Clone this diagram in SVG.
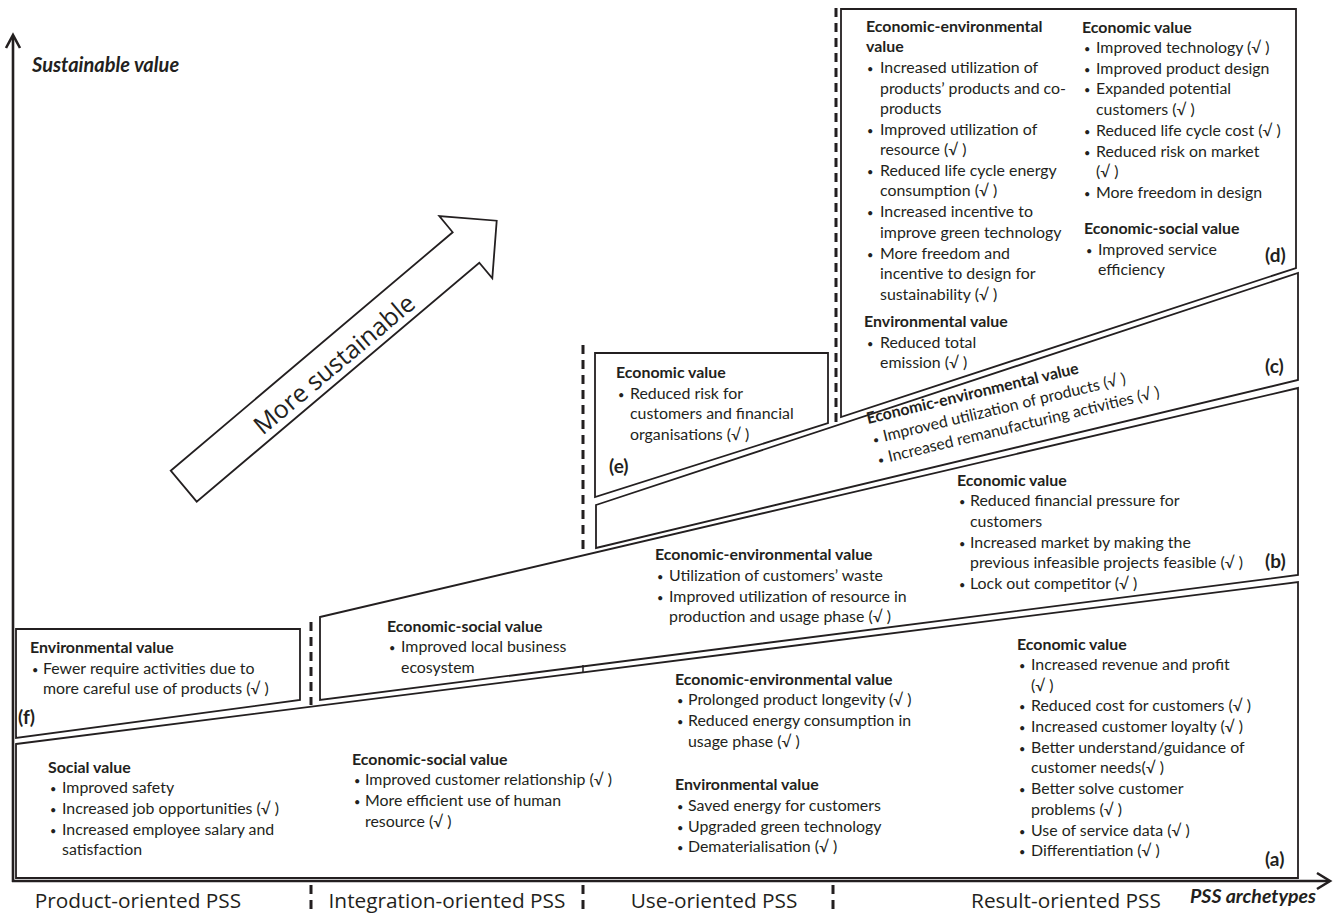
<svg xmlns="http://www.w3.org/2000/svg" width="1336" height="914" viewBox="0 0 1336 914">
<style>
.t{font-family:Lato,"Liberation Sans",sans-serif;font-size:15.9px;fill:#231f20}
.b{font-weight:bold}
.t tspan.u{font-size:11px}
.lab{font-family:Lato,"Liberation Sans",sans-serif;font-size:19px;font-weight:bold;fill:#231f20}
.ax{font-family:"Open Sans","Liberation Sans",sans-serif;font-size:20.8px;fill:#231f20}
.axi{font-family:Lato,"Liberation Sans",sans-serif;font-weight:bold;font-style:italic;fill:#231f20}
.shape{fill:#fff;stroke:#231f20;stroke-width:1.8;stroke-linejoin:miter}
.dash{fill:none;stroke:#231f20;stroke-width:3;stroke-dasharray:9 6}
.axis{fill:none;stroke:#231f20;stroke-width:2.6}
</style>
<rect width="1336" height="914" fill="#fff"/>

<g id="axes">
<line class="axis" x1="13" y1="882" x2="13" y2="36"/>
<polyline class="axis" points="6,48 13,35 20,48"/>
<line class="axis" x1="12" y1="881" x2="1328" y2="881"/>
<polyline class="axis" points="1317,873 1330,881 1317,889"/>
<text class="axi" x="32" y="72" font-size="20">Sustainable value</text>
<text class="axi" x="1190" y="903" font-size="19.5">PSS archetypes</text>
<line class="dash" x1="311" y1="885" x2="311" y2="912"/>
<line class="dash" x1="583" y1="885" x2="583" y2="912"/>
<line class="dash" x1="833" y1="885" x2="833" y2="912"/>
<text class="ax" x="138" y="908" text-anchor="middle">Product-oriented PSS</text>
<text class="ax" x="447" y="908" text-anchor="middle">Integration-oriented PSS</text>
<text class="ax" x="714" y="908" text-anchor="middle">Use-oriented PSS</text>
<text class="ax" x="1066" y="908" text-anchor="middle">Result-oriented PSS</text>
</g>

<g id="connectors">
<line class="dash" x1="311" y1="622" x2="311" y2="705"/>
<line class="dash" x1="583" y1="345" x2="583" y2="553"/>
<line class="dash" x1="836" y1="8" x2="836" y2="426"/>
</g>

<g id="arrow-more-sustainable">
<polygon class="shape" points="170.7,470.7 452.7,232.3 439.3,216 496.7,220.7 492.3,278.3 479.3,262.7 196.7,501.7" stroke-width="1.4"/>
<text x="334" y="373" text-anchor="middle" transform="rotate(-40 334 364)" style="font-family:'Open Sans','Liberation Sans',sans-serif;font-size:25px;fill:#231f20">More sustainable</text>
</g>

<g id="node-a">
<polygon class="shape" points="16,744 1298,582 1298,878 16,878"/>
<text class="lab" x="1265" y="866">(a)</text>
<text class="t b" x="48" y="773">Social value</text>
<text class="t"><tspan class="u" x="50" y="793">•</tspan><tspan x="62" y="793">Improved safety</tspan></text>
<text class="t"><tspan class="u" x="50" y="814">•</tspan><tspan x="62" y="814">Increased job opportunities (√ )</tspan></text>
<text class="t"><tspan class="u" x="50" y="835">•</tspan><tspan x="62" y="835">Increased employee salary and</tspan></text>
<text class="t" x="62" y="855">satisfaction</text>
<text class="t b" x="352" y="765">Economic-social value</text>
<text class="t"><tspan class="u" x="354" y="785">•</tspan><tspan x="365" y="785">Improved customer relationship (√ )</tspan></text>
<text class="t"><tspan class="u" x="354" y="806">•</tspan><tspan x="365" y="806">More efficient use of human</tspan></text>
<text class="t" x="365" y="827">resource (√ )</text>
<text class="t b" x="675" y="685">Economic-environmental value</text>
<text class="t"><tspan class="u" x="677" y="705">•</tspan><tspan x="688" y="705">Prolonged product longevity (√ )</tspan></text>
<text class="t"><tspan class="u" x="677" y="726">•</tspan><tspan x="688" y="726">Reduced energy consumption in</tspan></text>
<text class="t" x="688" y="747">usage phase (√ )</text>
<text class="t b" x="675" y="790">Environmental value</text>
<text class="t"><tspan class="u" x="677" y="811">•</tspan><tspan x="688" y="811">Saved energy for customers</tspan></text>
<text class="t"><tspan class="u" x="677" y="832">•</tspan><tspan x="688" y="832">Upgraded green technology</tspan></text>
<text class="t"><tspan class="u" x="677" y="852">•</tspan><tspan x="688" y="852">Dematerialisation (√ )</tspan></text>
<text class="t b" x="1017" y="650">Economic value</text>
<text class="t"><tspan class="u" x="1019" y="670">•</tspan><tspan x="1031" y="670">Increased revenue and profit</tspan></text>
<text class="t" x="1031" y="691">(√ )</text>
<text class="t"><tspan class="u" x="1019" y="711">•</tspan><tspan x="1031" y="711">Reduced cost for customers (√ )</tspan></text>
<text class="t"><tspan class="u" x="1019" y="732">•</tspan><tspan x="1031" y="732">Increased customer loyalty (√ )</tspan></text>
<text class="t"><tspan class="u" x="1019" y="753">•</tspan><tspan x="1031" y="753">Better understand/guidance of</tspan></text>
<text class="t" x="1031" y="773">customer needs(√ )</text>
<text class="t"><tspan class="u" x="1019" y="794">•</tspan><tspan x="1031" y="794">Better solve customer</tspan></text>
<text class="t" x="1031" y="815">problems (√ )</text>
<text class="t"><tspan class="u" x="1019" y="836">•</tspan><tspan x="1031" y="836">Use of service data (√ )</tspan></text>
<text class="t"><tspan class="u" x="1019" y="856">•</tspan><tspan x="1031" y="856">Differentiation (√ )</tspan></text>
</g>

<g id="node-f">
<polygon class="shape" points="16,629 300,629 300,700 16,738"/>
<text class="lab" x="18" y="724">(f)</text>
<text class="t b" x="30" y="653">Environmental value</text>
<text class="t"><tspan class="u" x="32" y="674">•</tspan><tspan x="43" y="674">Fewer require activities due to</tspan></text>
<text class="t" x="43" y="694">more careful use of products (√ )</text>
</g>

<g id="node-b">
<polygon class="shape" points="320,617 1298,388 1298,575 320,700"/>
<line x1="583" y1="665" x2="583" y2="672" stroke="#231f20" stroke-width="1.5"/>
<text class="lab" x="1265" y="568">(b)</text>
<text class="t b" x="387" y="632">Economic-social value</text>
<text class="t"><tspan class="u" x="389" y="652">•</tspan><tspan x="401" y="652">Improved local business</tspan></text>
<text class="t" x="401" y="673">ecosystem</text>
<text class="t b" x="655" y="560">Economic-environmental value</text>
<text class="t"><tspan class="u" x="657" y="581">•</tspan><tspan x="669" y="581">Utilization of customers’ waste</tspan></text>
<text class="t"><tspan class="u" x="657" y="602">•</tspan><tspan x="669" y="602">Improved utilization of resource in</tspan></text>
<text class="t" x="669" y="622">production and usage phase (√ )</text>
<text class="t b" x="957" y="486">Economic value</text>
<text class="t"><tspan class="u" x="959" y="506">•</tspan><tspan x="970" y="506">Reduced financial pressure for</tspan></text>
<text class="t" x="970" y="527">customers</text>
<text class="t"><tspan class="u" x="959" y="548">•</tspan><tspan x="970" y="548">Increased market by making the</tspan></text>
<text class="t" x="970" y="568">previous infeasible projects feasible (√ )</text>
<text class="t"><tspan class="u" x="959" y="589">•</tspan><tspan x="970" y="589">Lock out competitor (√ )</tspan></text>
</g>

<g id="node-c">
<polygon class="shape" points="596,505 1298,273 1298,380 596,548"/>
<text class="lab" x="1265" y="373">(c)</text>
<g transform="translate(868,424) rotate(-13.5)">
<text class="t b" x="0" y="0">Economic-environmental value</text>
<text class="t"><tspan class="u" x="1" y="21">•</tspan><tspan x="12" y="21">Improved utilization of products (√ )</tspan></text>
<text class="t"><tspan class="u" x="1" y="42">•</tspan><tspan x="12" y="42">Increased remanufacturing activities (√ )</tspan></text>
</g>
</g>

<g id="node-e">
<polygon class="shape" points="595,353 828,353 828,423 595,497"/>
<text class="lab" x="609" y="473">(e)</text>
<text class="t b" x="616" y="378">Economic value</text>
<text class="t"><tspan class="u" x="618" y="399">•</tspan><tspan x="630" y="399">Reduced risk for</tspan></text>
<text class="t" x="630" y="419">customers and financial</text>
<text class="t" x="630" y="440">organisations (√ )</text>
</g>

<g id="node-d">
<polygon class="shape" points="841,9 1296,9 1296,268 841,417"/>
<text class="lab" x="1265" y="262">(d)</text>
<text class="t b" x="866" y="32">Economic-environmental</text>
<text class="t b" x="866" y="52">value</text>
<text class="t"><tspan class="u" x="867" y="73">•</tspan><tspan x="880" y="73">Increased utilization of</tspan></text>
<text class="t" x="880" y="94">products’ products and co-</text>
<text class="t" x="880" y="114">products</text>
<text class="t"><tspan class="u" x="867" y="135">•</tspan><tspan x="880" y="135">Improved utilization of</tspan></text>
<text class="t" x="880" y="155">resource (√ )</text>
<text class="t"><tspan class="u" x="867" y="176">•</tspan><tspan x="880" y="176">Reduced life cycle energy</tspan></text>
<text class="t" x="880" y="196">consumption (√ )</text>
<text class="t"><tspan class="u" x="867" y="217">•</tspan><tspan x="880" y="217">Increased incentive to</tspan></text>
<text class="t" x="880" y="238">improve green technology</text>
<text class="t"><tspan class="u" x="867" y="259">•</tspan><tspan x="880" y="259">More freedom and</tspan></text>
<text class="t" x="880" y="279">incentive to design for</text>
<text class="t" x="880" y="300">sustainability (√ )</text>
<text class="t b" x="864" y="327">Environmental value</text>
<text class="t"><tspan class="u" x="867" y="348">•</tspan><tspan x="880" y="348">Reduced total</tspan></text>
<text class="t" x="880" y="368">emission (√ )</text>
<text class="t b" x="1082" y="33">Economic value</text>
<text class="t"><tspan class="u" x="1084" y="53">•</tspan><tspan x="1096" y="53">Improved technology (√ )</tspan></text>
<text class="t"><tspan class="u" x="1084" y="74">•</tspan><tspan x="1096" y="74">Improved product design</tspan></text>
<text class="t"><tspan class="u" x="1084" y="94">•</tspan><tspan x="1096" y="94">Expanded potential</tspan></text>
<text class="t" x="1096" y="115">customers (√ )</text>
<text class="t"><tspan class="u" x="1084" y="136">•</tspan><tspan x="1096" y="136">Reduced life cycle cost (√ )</tspan></text>
<text class="t"><tspan class="u" x="1084" y="157">•</tspan><tspan x="1096" y="157">Reduced risk on market</tspan></text>
<text class="t" x="1096" y="177">(√ )</text>
<text class="t"><tspan class="u" x="1084" y="198">•</tspan><tspan x="1096" y="198">More freedom in design</tspan></text>
<text class="t b" x="1084" y="234">Economic-social value</text>
<text class="t"><tspan class="u" x="1086" y="255">•</tspan><tspan x="1098" y="255">Improved service</tspan></text>
<text class="t" x="1098" y="275">efficiency</text>
</g>
</svg>
